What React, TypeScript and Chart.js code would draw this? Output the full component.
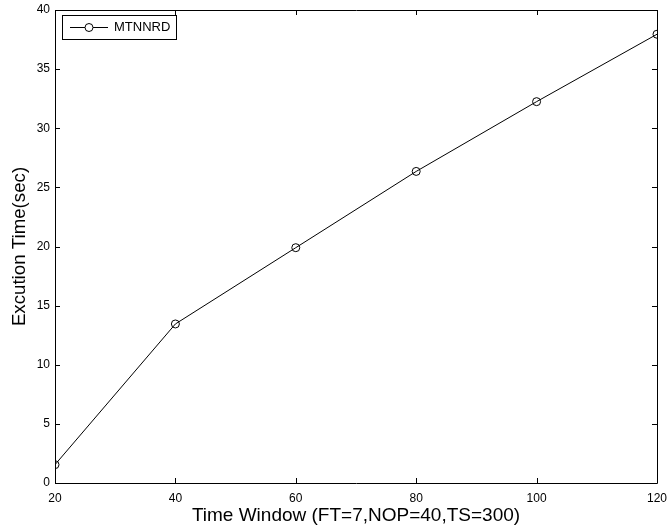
import React, { useEffect, useRef } from "react";
import { Chart, registerables } from "chart.js";

Chart.register(...registerables);

const timeWindows = [20, 40, 60, 80, 100, 120];
const execTimes = [1.55, 13.45, 19.9, 26.35, 32.25, 37.95];
const seriesLabel = "MTNNRD";
const xTitle = "Time Window (FT=7,NOP=40,TS=300)";
const yTitle = "Excution Time(sec)";

const FONT = "Arial, 'Liberation Sans', Helvetica, sans-serif";

const framePlugin = {
  id: "matlabFrame",
  afterDraw(chart: any) {
    const { ctx, chartArea: a, scales } = chart;
    const xs = scales.x;
    const ys = scales.y;
    ctx.save();
    ctx.strokeStyle = "#000";
    ctx.lineWidth = 1;
    ctx.beginPath();
    ctx.rect(Math.round(a.left) + 0.5, Math.round(a.top) + 0.5, Math.round(a.right - a.left), Math.round(a.bottom - a.top));
    ctx.stroke();
    const tl = 5;
    ctx.beginPath();
    xs.ticks.forEach((t: any) => {
      const px = Math.round(xs.getPixelForValue(t.value)) + 0.5;
      ctx.moveTo(px, a.bottom);
      ctx.lineTo(px, a.bottom - tl);
      ctx.moveTo(px, a.top);
      ctx.lineTo(px, a.top + tl);
    });
    ys.ticks.forEach((t: any) => {
      const py = Math.round(ys.getPixelForValue(t.value)) + 0.5;
      ctx.moveTo(a.left, py);
      ctx.lineTo(a.left + tl, py);
      ctx.moveTo(a.right, py);
      ctx.lineTo(a.right - tl, py);
    });
    ctx.stroke();

    // legend box
    const lx = a.left + 7;
    const ly = a.top + 5;
    const lw = 114;
    const lh = 24;
    ctx.fillStyle = "#fff";
    ctx.fillRect(lx, ly, lw, lh);
    ctx.strokeRect(lx + 0.5, ly + 0.5, lw, lh);
    const cy = ly + lh / 2 + 0.5;
    ctx.beginPath();
    ctx.moveTo(lx + 8, cy);
    ctx.lineTo(lx + 46, cy);
    ctx.stroke();
    ctx.beginPath();
    ctx.arc(lx + 27, cy, 4, 0, Math.PI * 2);
    ctx.fillStyle = "#fff";
    ctx.fill();
    ctx.stroke();
    ctx.fillStyle = "#000";
    ctx.font = `13px ${FONT}`;
    ctx.textBaseline = "middle";
    ctx.textAlign = "left";
    ctx.fillText(seriesLabel, lx + 52, cy);
    ctx.restore();
  },
};

export default function App() {
  const ref = useRef<HTMLCanvasElement>(null);
  useEffect(() => {
    document.body.style.margin = "0";
    const chart = new Chart(ref.current!, {
      type: "line",
      data: {
        datasets: [
          {
            label: seriesLabel,
            data: timeWindows.map((x, i) => ({ x, y: execTimes[i] })),
            borderColor: "#000",
            borderWidth: 1,
            pointStyle: "circle",
            pointRadius: 4,
            pointBorderWidth: 1,
            pointBorderColor: "#000",
            pointBackgroundColor: "rgba(0,0,0,0)",
            tension: 0,
          },
        ],
      },
      options: {
        responsive: false,
        animation: false,
        layout: { padding: { top: 10, right: 10, left: 0, bottom: 0 } },
        plugins: { legend: { display: false }, tooltip: { enabled: false } },
        scales: {
          x: {
            type: "linear",
            min: 20,
            max: 120,
            grid: { display: false, drawTicks: true, tickLength: 8 },
            border: { display: false },
            ticks: { stepSize: 20, color: "#000", font: { family: FONT, size: 12 }, padding: 0, maxRotation: 0 },
            title: { display: true, text: xTitle, color: "#000", font: { family: FONT, size: 19 }, padding: { top: 0, bottom: 2 } },
            afterFit(s: any) {
              s.height = 46;
            },
          },
          y: {
            min: 0,
            max: 40,
            grid: { display: false, drawTicks: true, tickLength: 3 },
            border: { display: false },
            ticks: { stepSize: 5, color: "#000", font: { family: FONT, size: 12 }, padding: 2 },
            title: { display: true, text: yTitle, color: "#000", font: { family: FONT, size: 18.7 }, padding: { top: 9, bottom: 0 } },
            afterFit(s: any) {
              s.width = 55;
            },
          },
        },
      },
      plugins: [framePlugin],
    });
    return () => chart.destroy();
  }, []);
  return (
    <div style={{ width: 667, height: 529, background: "#fff" }}>
      <canvas ref={ref} width={667} height={529} style={{ display: "block" }} />
    </div>
  );
}
